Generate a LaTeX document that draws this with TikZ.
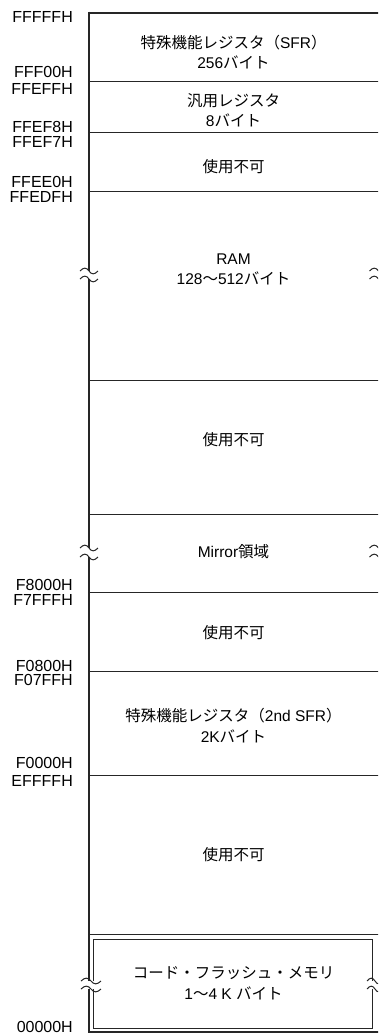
\documentclass[tikz,border=0pt]{standalone}
\usepackage{fontspec}
\setmainfont{Liberation Sans}
\newfontfamily\jp{Noto Sans CJK JP}
\begin{document}
\begin{tikzpicture}[x=1pt,y=-1pt,
  thin line/.style={line width=0.9pt,draw=black!85},
  thick line/.style={line width=2pt,draw=black!85},
  lbl/.style={anchor=east,inner sep=0pt,font=\fontsize{16}{17}\selectfont},
  txt/.style={align=center,inner sep=0pt,font=\fontsize{15.5}{20.5}\selectfont}]
\useasboundingbox (0,0) rectangle (378,1036);
\clip (0,0) rectangle (378,1036);
% tilde macro: center x, y, half width
\newcommand\tld[3]{\draw[thin line,line width=1pt] (#1-#3,#2) .. controls (#1-#3*0.6,#2-3.8) and (#1-#3*0.3,#2-3.8) .. (#1,#2) .. controls (#1+#3*0.3,#2+3.8) and (#1+#3*0.6,#2+3.8) .. (#1+#3,#2);}
% horizontal divisions
\foreach \yy in {81,132.7,191.7,380,514.3,592.5,671,775}{\draw[thin line] (89,\yy) -- (380,\yy);}
% top and bottom thick lines
\draw[thick line] (88,12.7) -- (380,12.7);
\draw[thick line] (88,1032) -- (380,1032);
% main left line with breaks
\draw[thick line] (89,11.7) -- (89,271);
\draw[thick line] (89,279) -- (89,548);
\draw[thick line] (89,557) -- (89,981);
\draw[thick line] (89,989) -- (89,1033);
\tld{89}{271}{9}\tld{89}{279}{9}
\tld{89}{548}{9}\tld{89}{557}{9}
% right border (off page) with breaks
\tld{378.5}{271}{9}\tld{378.5}{279}{9}
\tld{378.5}{548}{9}\tld{378.5}{557}{9}
% code flash double box
\draw[thin line] (89,934) -- (380,934);
\draw[thin line] (93,981) -- (93,939) -- (372,939) -- (372,981);
\draw[thin line] (93,989) -- (93,1028) -- (372,1028) -- (372,989);
\tld{91}{981}{10}\tld{91}{989}{10}
\tld{375}{981}{8}\tld{375}{989}{8}
% texts
\node[txt] (sfr) at (233.5,52) {{\jp 特殊機能レジスタ（}SFR{\jp ）}\\256{\jp バイト}};
\node[txt] (gpr) at (233.5,110.5) {{\jp 汎用レジスタ}\\8{\jp バイト}};
\node[txt] (na1) at (233.5,167) {\jp 使用不可};
\node[txt] (ram) at (233.5,269.5) {RAM\\128{\jp 〜}512{\jp バイト}};
\node[txt] (na2) at (233.5,440) {\jp 使用不可};
\node[txt] (mir) at (233.5,552) {Mirror{\jp 領域}};
\node[txt] (na3) at (233.5,633) {\jp 使用不可};
\node[txt] (sfr2) at (233.5,725.5) {{\jp 特殊機能レジスタ（}2nd SFR{\jp ）}\\2K{\jp バイト}};
\node[txt] (na4) at (233.5,855) {\jp 使用不可};
\node[txt] (cfm) at (233.5,983.5) {{\jp コード・フラッシュ・メモリ}\\1{\jp 〜}4 K {\jp バイト}};
% address labels
\node[lbl] (a1) at (73,17) {FFFFFH};
\node[lbl] (a2) at (73,72) {FFF00H};
\node[lbl] (a3) at (73,89) {FFEFFH};
\node[lbl] (a4) at (73,127) {FFEF8H};
\node[lbl] (a5) at (73,142) {FFEF7H};
\node[lbl] (a6) at (73,182) {FFEE0H};
\node[lbl] (a7) at (73,197) {FFEDFH};
\node[lbl] (a8) at (73,585) {F8000H};
\node[lbl] (a9) at (73,600) {F7FFFH};
\node[lbl] (a10) at (73,666) {F0800H};
\node[lbl] (a11) at (73,680) {F07FFH};
\node[lbl] (a12) at (73,763) {F0000H};
\node[lbl] (a13) at (73,781) {EFFFFH};
\node[lbl] (a14) at (73,1027) {00000H};
\end{tikzpicture}
\end{document}
